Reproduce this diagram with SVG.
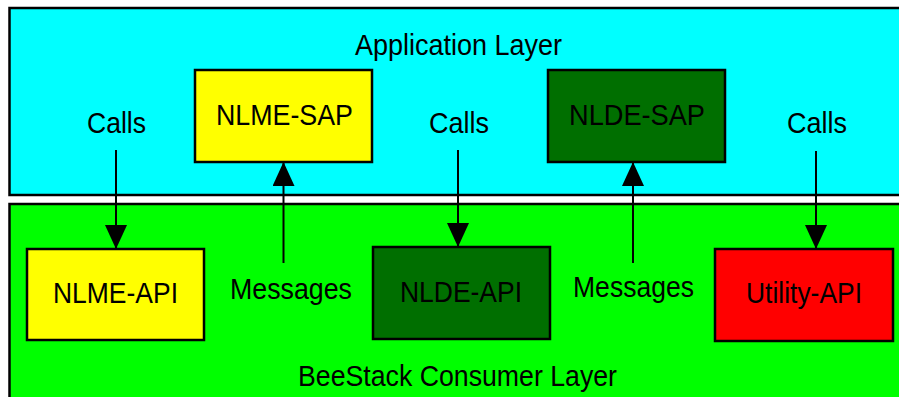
<svg xmlns="http://www.w3.org/2000/svg" width="899" height="397" viewBox="0 0 899 397">
<style>
.box{stroke:#000;stroke-width:2.5}
.lbl{font-family:"Liberation Sans",Arial,sans-serif;font-size:30px;fill:#000}
.conn{stroke:#000;stroke-width:2;fill:none}
</style>
<defs>
<marker id="ah" markerUnits="userSpaceOnUse" markerWidth="24" markerHeight="22" refX="24" refY="11" orient="auto" viewBox="0 0 24 22">
<path d="M0,0 L24,11 L0,22 z" fill="#000"/>
</marker>
</defs>
<rect width="899" height="397" fill="#fff"/>
<g id="application-layer">
<rect class="box" x="9.5" y="8" width="920" height="187" fill="#00FFFF"/>
<text class="lbl" x="355" y="55" textLength="207" lengthAdjust="spacingAndGlyphs">Application Layer</text>
</g>
<g id="consumer-layer">
<rect class="box" x="9.5" y="204" width="920" height="230" fill="#00FF00"/>
<text class="lbl" x="298" y="386" textLength="319" lengthAdjust="spacingAndGlyphs">BeeStack Consumer Layer</text>
</g>
<g id="nlme-sap">
<rect class="box" x="195" y="70" width="177" height="92" fill="#FFFF00"/>
<text class="lbl" x="216" y="125" textLength="137" lengthAdjust="spacingAndGlyphs">NLME-SAP</text>
</g>
<g id="nlde-sap">
<rect class="box" x="548" y="70" width="177" height="92" fill="#006F00"/>
<text class="lbl" x="569" y="125" textLength="136" lengthAdjust="spacingAndGlyphs">NLDE-SAP</text>
</g>
<g id="nlme-api">
<rect class="box" x="27" y="249" width="177" height="91" fill="#FFFF00"/>
<text class="lbl" x="53" y="303" textLength="125" lengthAdjust="spacingAndGlyphs">NLME-API</text>
</g>
<g id="nlde-api">
<rect class="box" x="373" y="247" width="177" height="92" fill="#006F00"/>
<text class="lbl" x="400" y="302" textLength="122" lengthAdjust="spacingAndGlyphs">NLDE-API</text>
</g>
<g id="utility-api">
<rect class="box" x="715" y="249" width="178" height="92" fill="#FF0000"/>
<text class="lbl" x="746" y="303" textLength="116" lengthAdjust="spacingAndGlyphs">Utility-API</text>
</g>
<g id="connectors">
<line class="conn" x1="116" y1="150" x2="116" y2="249" marker-end="url(#ah)"/>
<line class="conn" x1="458" y1="150" x2="458" y2="247" marker-end="url(#ah)"/>
<line class="conn" x1="816" y1="151" x2="816" y2="249" marker-end="url(#ah)"/>
<line class="conn" x1="283.5" y1="263" x2="283.5" y2="162" marker-end="url(#ah)"/>
<line class="conn" x1="633" y1="263" x2="633" y2="162" marker-end="url(#ah)"/>
<text class="lbl" x="87" y="133" textLength="59" lengthAdjust="spacingAndGlyphs">Calls</text>
<text class="lbl" x="429" y="133" textLength="60" lengthAdjust="spacingAndGlyphs">Calls</text>
<text class="lbl" x="787" y="133" textLength="60" lengthAdjust="spacingAndGlyphs">Calls</text>
<text class="lbl" x="230" y="299" textLength="122" lengthAdjust="spacingAndGlyphs">Messages</text>
<text class="lbl" x="573" y="297" textLength="121" lengthAdjust="spacingAndGlyphs">Messages</text>
</g>
</svg>
